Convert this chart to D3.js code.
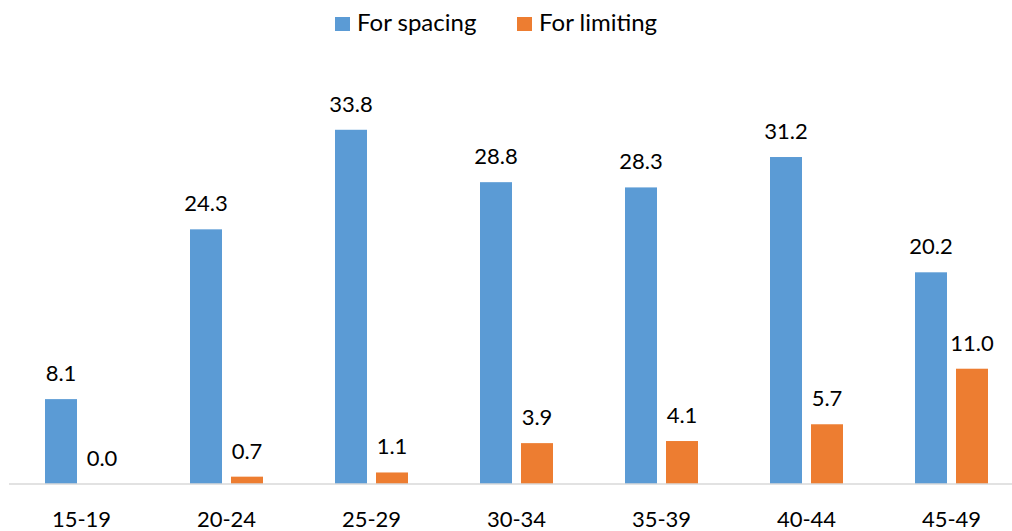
<!DOCTYPE html>
<html>
<head>
<meta charset="utf-8">
<script src="https://cdn.jsdelivr.net/npm/d3@7"></script>
<style>
  html, body { margin: 0; padding: 0; background: #fff; }
  svg { display: block; font-family: Lato, "Open Sans", sans-serif; }
</style>
</head>
<body>
<svg id="chart" width="1012" height="531"></svg>
<script>
// Age groups and the two reasons (percent)
const categories = ["15-19", "20-24", "25-29", "30-34", "35-39", "40-44", "45-49"];
const seriesNames = ["For spacing", "For limiting"];
const spacing = [8.1, 24.3, 33.8, 28.8, 28.3, 31.2, 20.2];
const limiting = [0.0, 0.7, 1.1, 3.9, 4.1, 5.7, 11.0];
const colors = ["#5B9BD5", "#ED7D31"];

const svg = d3.select("#chart");
const baseY = 484;

const x0 = d3.scaleBand().domain(categories).range([9, 1024]).padding(0);
const x1 = d3.scaleBand().domain(seriesNames).range([36, 109]).paddingInner(9 / 41).paddingOuter(0);
const y = d3.scaleLinear().domain([0, 35]).range([baseY, baseY - 35 * 10.48]);

const rows = categories.map((c, i) => ({ cat: c, vals: [spacing[i], limiting[i]] }));

const groups = svg.append("g").selectAll("g")
  .data(rows).join("g")
  .attr("transform", d => `translate(${x0(d.cat)},0)`);

groups.selectAll("rect")
  .data(d => d.vals.map((v, k) => ({ key: seriesNames[k], v, k })))
  .join("rect")
  .attr("x", d => x1(d.key))
  .attr("width", x1.bandwidth())
  .attr("y", d => y(d.v))
  .attr("height", d => y(0) - y(d.v))
  .attr("fill", d => colors[d.k]);

groups.selectAll("text.val")
  .data(d => d.vals.map((v, k) => ({ key: seriesNames[k], v, k })))
  .join("text")
  .attr("class", "val")
  .attr("x", d => x1(d.key) + x1.bandwidth() / 2)
  .attr("y", d => y(d.v) - 18)
  .attr("text-anchor", "middle")
  .attr("font-size", 22)
  .attr("fill", "#000")
  .text(d => d.v.toFixed(1));

// Baseline axis
const xAxis = d3.axisBottom(x0).tickSize(0).tickPadding(0);
const axisG = svg.append("g").attr("transform", `translate(0,${baseY})`).call(xAxis);
axisG.select(".domain").remove();
axisG.append("line").attr("x1", 9).attr("x2", 1012).attr("y1", 0).attr("y2", 0)
  .attr("stroke", "#D9D9D9").attr("stroke-width", 1.5);
axisG.selectAll(".tick text")
  .attr("y", 43)
  .attr("dy", 0)
  .attr("font-size", 22)
  .attr("font-family", "Lato, 'Open Sans', sans-serif")
  .attr("fill", "#000");

// Legend
const legendItems = [
  { name: seriesNames[0], color: colors[0], x: 335 },
  { name: seriesNames[1], color: colors[1], x: 517 }
];
const lg = svg.append("g").selectAll("g").data(legendItems).join("g")
  .attr("transform", d => `translate(${d.x},0)`);
lg.append("rect").attr("x", 0).attr("y", 17).attr("width", 15).attr("height", 14)
  .attr("fill", d => d.color);
lg.append("text").attr("x", 22).attr("y", 31).attr("font-size", 24).attr("fill", "#000")
  .text(d => d.name);
</script>
</body>
</html>
